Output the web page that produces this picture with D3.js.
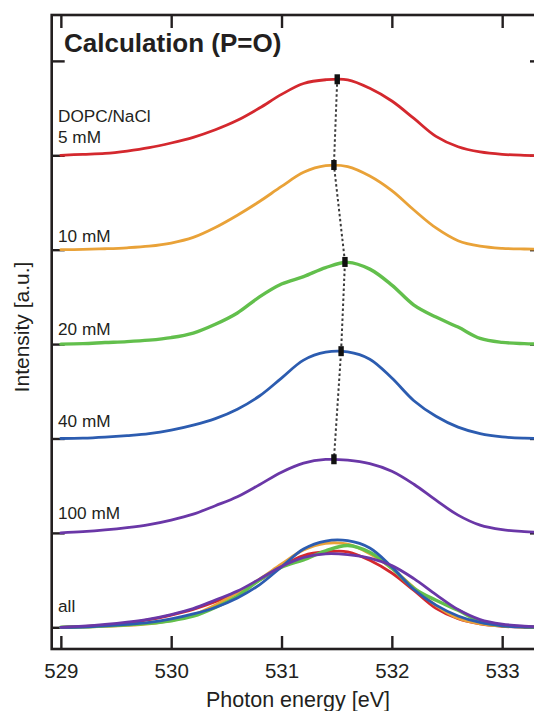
<!DOCTYPE html>
<html>
<head>
<meta charset="utf-8">
<script src="https://cdn.jsdelivr.net/npm/d3@7"></script>
<style>
  html, body { margin: 0; padding: 0; background: #fff; }
  svg { display: block; }
  text { font-family: "Liberation Sans", Arial, Helvetica, sans-serif; fill: #231f20; }
</style>
</head>
<body>
<svg id="chart" width="534" height="711"></svg>
<script>
// ---- data ----
const energies = [529.0, 529.2, 529.4, 529.6, 529.8, 530.0, 530.2, 530.4, 530.6, 530.8, 531.0,
                  531.2, 531.4, 531.6, 531.8, 532.0, 532.2, 532.4, 532.6, 532.8, 533.0, 533.2, 533.4];
const red    = [0, 0.01, 0.02, 0.045, 0.08, 0.13, 0.19, 0.27, 0.37, 0.50, 0.645, 0.76, 0.80, 0.80, 0.71, 0.575, 0.39, 0.20, 0.09, 0.035, 0.01, 0, -0.005];
const orange = [0, 0.003, 0.01, 0.02, 0.037, 0.07, 0.13, 0.235, 0.365, 0.51, 0.67, 0.82, 0.89, 0.88, 0.78, 0.625, 0.42, 0.23, 0.095, 0.037, 0.014, 0.007, 0.005];
const green  = [0, 0.005, 0.016, 0.026, 0.042, 0.069, 0.117, 0.21, 0.33, 0.50, 0.636, 0.715, 0.81, 0.866, 0.794, 0.625, 0.413, 0.286, 0.18, 0.06, 0.018, 0.005, 0];
const blue   = [0, 0.003, 0.014, 0.03, 0.051, 0.088, 0.141, 0.21, 0.31, 0.45, 0.64, 0.83, 0.914, 0.917, 0.84, 0.64, 0.40, 0.235, 0.12, 0.051, 0.016, 0.003, 0];
const purple = [0, 0.013, 0.031, 0.055, 0.087, 0.135, 0.198, 0.288, 0.383, 0.51, 0.643, 0.739, 0.778, 0.770, 0.733, 0.653, 0.515, 0.346, 0.188, 0.082, 0.034, 0.013, 0.002];

const seriesNames = ["5 mM", "10 mM", "20 mM", "40 mM", "100 mM"];
const seriesOffsets = [5, 4, 3, 2, 1];
const peakEnergies = [531.505, 531.475, 531.575, 531.54, 531.475];
const peakHeights  = [0.805, 0.897, 0.87, 0.925, 0.78];
const xTicks = [529, 530, 531, 532, 533];
const yTicks = [0, 1, 2, 3, 4, 5, 6];
const curveLabels = [["DOPC/NaCl", "5 mM"], ["10 mM"], ["20 mM"], ["40 mM"], ["100 mM"], ["all"]];
const labelOffsets = [5, 4, 3, 2, 1, 0];

// ---- styles / layout ----
const colors = ["#d4282e", "#e9a238", "#62bf4c", "#2c5cb0", "#6a37a7"];
const widths = [2.8, 2.8, 3.4, 2.8, 2.8];
const labelDy = [-12, -8, -9, -11, -14, -15];
const seriesValues = [red, orange, green, blue, purple];

const svg = d3.select("#chart");
const pL = 51.7, pR = 543, pT = 15, pB = 649;

const x = d3.scaleLinear().domain([528.917, 533.37]).range([pL, pR]);
const y = d3.scaleLinear().domain([-0.23, 6.486]).range([pB, pT]);

svg.append("defs").append("clipPath").attr("id", "plotclip")
  .append("rect").attr("x", pL).attr("y", pT).attr("width", pR - pL).attr("height", pB - pT);

const axisColor = "#231f20";

// axes with inward ticks
const gB = svg.append("g").attr("transform", `translate(0,${pB})`)
  .call(d3.axisBottom(x).tickValues(xTicks).tickFormat(d3.format("d")).tickSizeInner(-13).tickSizeOuter(0).tickPadding(14.5));
const gT = svg.append("g").attr("transform", `translate(0,${pT})`)
  .call(d3.axisTop(x).tickValues(xTicks).tickFormat("").tickSizeInner(-13).tickSizeOuter(0));
const gL = svg.append("g").attr("transform", `translate(${pL},0)`)
  .call(d3.axisLeft(y).tickValues(yTicks).tickFormat("").tickSizeInner(-13).tickSizeOuter(0));
const gR = svg.append("g").attr("transform", `translate(${pR},0)`)
  .call(d3.axisRight(y).tickValues(yTicks).tickFormat("").tickSizeInner(-13).tickSizeOuter(0));
[gB, gT, gL, gR].forEach(g => {
  g.select(".domain").remove();
  g.selectAll(".tick line").attr("stroke", axisColor).attr("stroke-width", 2.4);
});
gB.selectAll(".tick text").attr("font-size", "20.5px").attr("fill", axisColor)
  .style("font-family", '"Liberation Sans", Arial, Helvetica, sans-serif');

// frame
svg.append("rect").attr("x", pL).attr("y", pT).attr("width", pR - pL).attr("height", pB - pT)
  .attr("fill", "none").attr("stroke", axisColor).attr("stroke-width", 2.6);

const plot = svg.append("g").attr("clip-path", "url(#plotclip)");

const line = (vals, off) => d3.line()
  .x((d, i) => x(energies[i]))
  .y(d => y(d + off))
  .curve(d3.curveCatmullRom.alpha(0.5))(vals);

// stacked curves
seriesValues.forEach((vals, k) => {
  plot.append("path").attr("d", line(vals, seriesOffsets[k]))
    .attr("fill", "none").attr("stroke", colors[k]).attr("stroke-width", widths[k])
    .attr("stroke-linejoin", "round").attr("stroke-linecap", "round");
});

// overlaid "all"
seriesValues.forEach((vals, k) => {
  plot.append("path").attr("d", line(vals, 0))
    .attr("fill", "none").attr("stroke", colors[k]).attr("stroke-width", widths[k])
    .attr("stroke-linejoin", "round").attr("stroke-linecap", "round");
});

// dotted peak line
const peakPts = peakEnergies.map((e, k) => [x(e), y(peakHeights[k] + seriesOffsets[k])]);
plot.append("path").attr("d", d3.line()(peakPts))
  .attr("fill", "none").attr("stroke", "#3a3a3a").attr("stroke-width", 2)
  .attr("stroke-dasharray", "2.5,2.5");

// markers
plot.selectAll("rect.mark").data(peakPts).join("rect").attr("class", "mark")
  .attr("x", d => d[0] - 2.7).attr("y", d => d[1] - 5).attr("width", 5.4).attr("height", 10)
  .attr("fill", "#111");

// curve labels
curveLabels.forEach((lines, k) => {
  const base = y(labelOffsets[k]) + labelDy[k];
  lines.forEach((t, j) => {
    svg.append("text").attr("x", 58).attr("y", base - (lines.length - 1 - j) * 21)
      .attr("font-size", "17.2px").text(t);
  });
});

// title
svg.append("text").attr("x", 64).attr("y", 52).attr("font-size", "26px").attr("font-weight", "bold")
  .text("Calculation (P=O)");

// axis titles
svg.append("text").attr("x", 298).attr("y", 707).attr("text-anchor", "middle")
  .attr("font-size", "21.5px").text("Photon energy [eV]");
svg.append("text").attr("transform", "translate(28.5,327) rotate(-90)").attr("text-anchor", "middle")
  .attr("font-size", "21px").text("Intensity [a.u.]");
</script>
</body>
</html>
